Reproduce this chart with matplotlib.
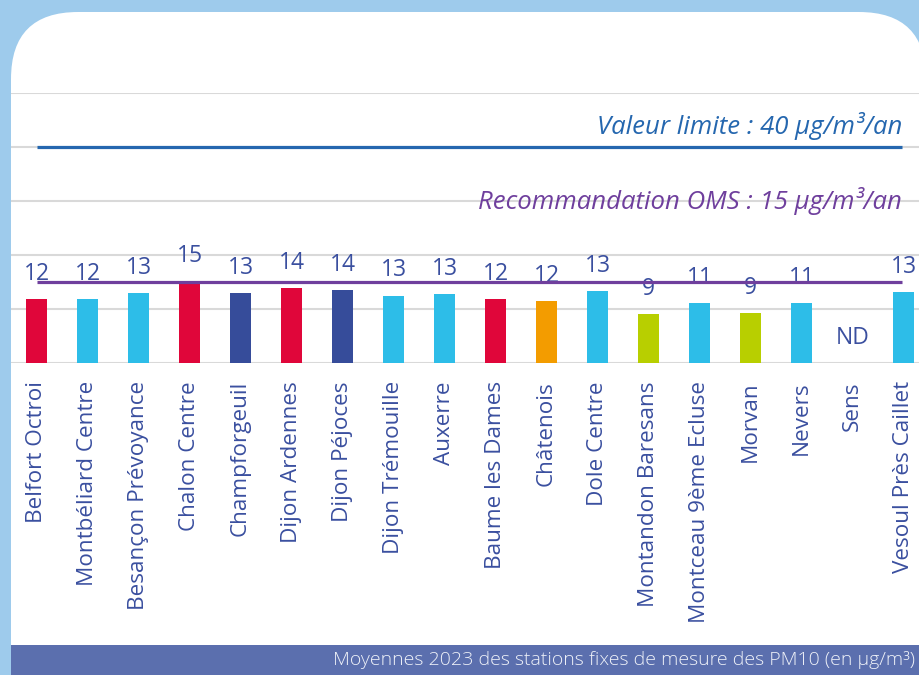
import matplotlib.pyplot as plt
from matplotlib.patches import FancyBboxPatch, Rectangle
from matplotlib.transforms import IdentityTransform

plt.rcParams['font.family'] = ['Open Sans', 'DejaVu Sans']

# data
stations = ['Belfort Octroi', 'Montbéliard Centre', 'Besançon Prévoyance', 'Chalon Centre',
            'Champforgeuil', 'Dijon Ardennes', 'Dijon Péjoces', 'Dijon Trémouille', 'Auxerre',
            'Baume les Dames', 'Châtenois', 'Dole Centre', 'Montandon Baresans',
            'Montceau 9ème Ecluse', 'Morvan', 'Nevers', 'Sens', 'Vesoul Près Caillet']
values = [11.9, 11.9, 12.9, 15.1, 12.9, 13.8, 13.6, 12.5, 12.7,
          11.9, 11.4, 13.3, 9.0, 11.2, 9.2, 11.2, 0, 13.1]
value_labels = ['12', '12', '13', '15', '13', '14', '14', '13', '13',
                '12', '12', '13', '9', '11', '9', '11', 'ND', '13']
bar_colors = ['#E0063A', '#2DBDE8', '#2DBDE8', '#E0063A', '#364C9A', '#E0063A', '#364C9A',
              '#2DBDE8', '#2DBDE8', '#E0063A', '#F39C00', '#2DBDE8', '#B8CF00', '#2DBDE8',
              '#B8CF00', '#2DBDE8', '#2DBDE8', '#2DBDE8']
limit_value = 40
oms_value = 15

text_col = '#3A4F9F'
blue_line = '#2567AF'
purple_line = '#6F3F9D'

fig = plt.figure(figsize=(9.2, 6.75), dpi=100)
fig.patch.set_facecolor('#9ECBEC')

# white card with rounded top corners
card = FancyBboxPatch((11, -100), 915, 763, boxstyle='round,pad=0,rounding_size=67',
                      transform=IdentityTransform(), fc='white', ec='none', zorder=-2)
fig.add_artist(card)
band = Rectangle((11, 0), 909, 30, transform=IdentityTransform(), fc='#5B6FAE', ec='none', zorder=-1)
fig.add_artist(band)
fig.text(915 / 920, 15 / 675, 'Moyennes 2023 des stations fixes de mesure des PM10 (en µg/m³)',
         ha='right', va='center', fontsize=14, color='#EEF1F8', fontweight='light')

ax = fig.add_axes([11 / 920, (675 - 363) / 675, 909 / 920, 270 / 675])
ax.patch.set_alpha(0)
x = list(range(len(stations)))
ax.bar(x, values, width=0.41, color=bar_colors, zorder=2)

for i, (v, lbl) in enumerate(zip(values, value_labels)):
    ax.annotate(lbl, (i, v), xytext=(0, 18), textcoords='offset points',
                ha='center', va='center', fontsize=16.5, color=text_col, zorder=3)

ax.hlines(limit_value, 0, 16.97, color=blue_line, lw=2.3, zorder=4)
ax.hlines(oms_value, 0, 16.97, color=purple_line, lw=2.3, zorder=4)
ax.text(16.97, 42.4, 'Valeur limite : 40 µg/m³/an', ha='right', va='baseline',
        style='italic', fontsize=18.5, color=blue_line)
ax.text(16.97, 28.6, 'Recommandation OMS : 15 µg/m³/an', ha='right', va='baseline',
        style='italic', fontsize=18.5, color=purple_line)

ax.set_xlim(-0.5, 17.32)
ax.set_ylim(0, 50)
ax.set_yticks(range(0, 51, 10))
ax.set_yticklabels([])
ax.yaxis.grid(True, color='#D9D9D9', lw=1.5)
ax.set_axisbelow(True)
ax.set_xticks(x)
ax.set_xticklabels(stations, rotation=90, fontsize=16.2, color=text_col)
ax.tick_params(length=0, pad=13)
for s in ax.spines.values():
    s.set_visible(False)

fig.savefig('out.png', dpi=100)
